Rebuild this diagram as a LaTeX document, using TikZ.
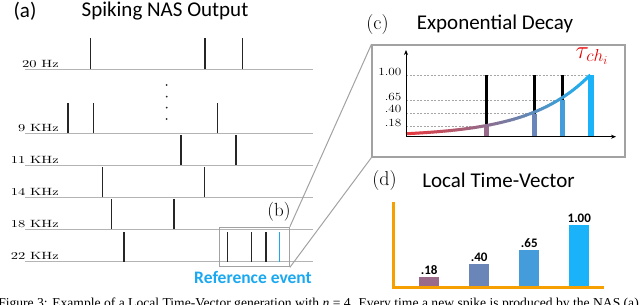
\documentclass[tikz,border=0pt]{standalone}
\usepackage{fontspec}
\setsansfont{Carlito}
\newfontfamily\capfont{Liberation Serif}
\usetikzlibrary{arrows.meta}
\definecolor{cred}{HTML}{E8383D}
\definecolor{cblue}{HTML}{1AB2F5}
\definecolor{gline}{HTML}{B4B4B4}
\definecolor{orng}{HTML}{F5A000}
\definecolor{c18}{HTML}{9A6A8A}
\definecolor{c40}{HTML}{6A86B8}
\definecolor{c65}{HTML}{449CDA}
\definecolor{c100}{HTML}{1AB2F8}
\definecolor{refblue}{HTML}{1AA8F0}
\tikzset{
  title/.style={font=\sffamily\fontsize{21}{24}\selectfont, inner sep=0pt},
  plab/.style={font=\fontsize{20}{22}\selectfont, inner sep=0pt},
  rowlab/.style={font=\fontsize{10.5}{12}\selectfont, inner sep=0pt, anchor=base east},
  ticklab/.style={font=\fontsize{11}{12}\selectfont, inner sep=0pt, anchor=base east},
  barlab/.style={font=\sffamily\bfseries\fontsize{13}{14}\selectfont, inner sep=0pt, anchor=base},
  track/.style={draw=gline, line width=1pt},
  spike/.style={draw=black!85, line width=1.3pt},
  zoomline/.style={draw=gline!90!black, line width=1pt},
  gbox/.style={draw=gline!90!black, line width=1.2pt, inner sep=0pt},
  dashl/.style={draw=gray!70, dashed, line width=0.5pt, dash pattern=on 2pt off 1.5pt},
}
\begin{document}
\begin{tikzpicture}[x=1pt,y=-1pt]
\useasboundingbox (0,0) rectangle (640,305);
% ---------- panel (a)
\node[title] (alab) at (25,11) {(a)};
\node[title] (atitle) at (165,11) {Spiking NAS Output};
% tracks
\foreach \y/\lab/\nm in {69.3/20 Hz/r1, 133.3/9 KHz/r2, 165/11 KHz/r3, 197.3/14 KHz/r4, 229.3/18 KHz/r5, 261.7/22 KHz/r6}{
  \draw[track] (25,\y) -- (313,\y);
  \node[rowlab] (\nm) at (59,\y-1.8) {\scalebox{1.38}[1]{\lab}};
}
% spikes
\foreach \x in {90.7,205,242.7}{\draw[spike] (\x,69.3) -- (\x,38.3);}
\foreach \x in {68,93.3,217.3}{\draw[spike] (\x,133.3) -- (\x,103.3);}
\foreach \x in {181,236}{\draw[spike] (\x,165) -- (\x,135);}
\foreach \x in {102.7,204.7}{\draw[spike] (\x,197.3) -- (\x,167.3);}
\foreach \x in {111.7,174}{\draw[spike] (\x,229.3) -- (\x,199.3);}
\foreach \x in {124,227.7,251.7,266}{\draw[spike] (\x,261.7) -- (\x,231.5);}
\draw[draw=refblue, line width=1.5pt] (279.3,261.7) -- (279.3,231.5);
% vertical dots
\foreach \y in {85,96.7,107.7,119}{\fill[black!85] (166.7,\y) circle (1.0);}
% box (b)
\node[gbox, minimum width=70pt, minimum height=39.4pt] (bbox) at (254.3,247) {};
\node[plab, font=\fontsize{19}{22}\selectfont] (blab) at (279,212) {(b)};
\node[font=\sffamily\bfseries\fontsize{17.5}{20}\selectfont, text=refblue, inner sep=0pt] (refev) at (253,277.5) {Reference event};
% ---------- panel (c)
\node[plab] (clab) at (377.5,24.5) {(c)};
\node[title] (ctitle) at (495,24) {Exponential Decay};
\node[gbox, minimum width=253pt, minimum height=112pt] (cbox) at (498.5,101) {};
\draw[zoomline] (bbox.north east) -- (cbox.north west);
\draw[zoomline] (bbox.south east) -- (cbox.south west);
% dashed levels
\draw[dashl] (406,75) -- (590,75);
\draw[dashl] (406,100) -- (563,100);
\draw[dashl] (406,113.3) -- (534,113.3);
\draw[dashl] (406,126.7) -- (487,126.7);
\node[ticklab] (t100) at (401.5,76) {\scalebox{1.2}[1]{1.00}};
\node[ticklab] (t65) at (401.5,100.5) {\scalebox{1.2}[1]{.65}};
\node[ticklab] (t40) at (401.5,112.7) {\scalebox{1.2}[1]{.40}};
\node[ticklab] (t18) at (401.5,126) {\scalebox{1.2}[1]{.18}};
% spikes with coloured feet
\draw[black, line width=3pt] (486,75) -- (486,126);
\draw[c18, line width=5pt] (486,126) -- (486,136.7);
\draw[black, line width=3pt] (534.3,75) -- (534.3,113.5);
\draw[c40, line width=5pt] (534.3,113.5) -- (534.3,136.7);
\draw[black, line width=3pt] (562.7,75) -- (562.7,100);
\draw[c65, line width=5pt] (562.7,100) -- (562.7,136.7);
\draw[c100, line width=6pt] (590.5,75) -- (590.5,136.7);
% exponential curve with colour gradient
\foreach \i in {0,...,91}{
  \pgfmathsetmacro{\xa}{406+2*\i}
  \pgfmathsetmacro{\xb}{406+2*\i+2.4}
  \pgfmathsetmacro{\ya}{136.7-61.7*exp(0.0165*(\xa-590))}
  \pgfmathsetmacro{\yb}{136.7-61.7*exp(0.0165*(min(\xb,590)-590))}
  \pgfmathtruncatemacro{\p}{100*\i/91}
  \draw[color=cblue!\p!cred, line width=3pt] (\xa,\ya) -- (\xb,\yb);
}
% axes
\draw[-{Stealth[length=5pt,width=4pt]}, line width=0.8pt] (406,136.7) -- (406,50);
\draw[-{Stealth[length=5pt,width=4pt]}, line width=0.8pt] (406,136.7) -- (616,136.7);
\node[text=red!90!black, inner sep=0pt, font=\fontsize{26}{28}\selectfont] (tau) at (592,56) {$\tau_{ch_i}$};
% ---------- panel (d)
\node[plab] (dlab) at (384.5,180.5) {(d)};
\node[title] (dtitle) at (498.5,180) {Local Time-Vector};
\fill[c18] (419,276.7) rectangle (439.3,287.3);
\fill[c40] (469,264) rectangle (489.3,287.3);
\fill[c65] (519.3,250) rectangle (539.3,287.3);
\fill[c100] (569.3,225.3) rectangle (589.3,287.3);
\node[barlab] (b18) at (429.2,274) {.18};
\node[barlab] (b40) at (479.2,261.3) {.40};
\node[barlab] (b65) at (529.3,247.3) {.65};
\node[barlab] (b100) at (579.3,222.5) {1.00};
\draw[orng, line width=2.5pt, line cap=rect] (393.3,203.3) -- (393.3,287.3) -- (602.7,287.3);
% ---------- caption (cut by the frame, as in the reference)
\begin{scope}
\clip (0,0) rectangle (640,305);
\node[font=\capfont\fontsize{13.6}{15}\selectfont, anchor=base east, inner sep=0pt] (cap) at (639,307.5) {Figure 3: Example of a Local Time-Vector generation with \textit{n} = 4. Every time a new spike is produced by the NAS (a)};
\end{scope}
\end{tikzpicture}
\end{document}
